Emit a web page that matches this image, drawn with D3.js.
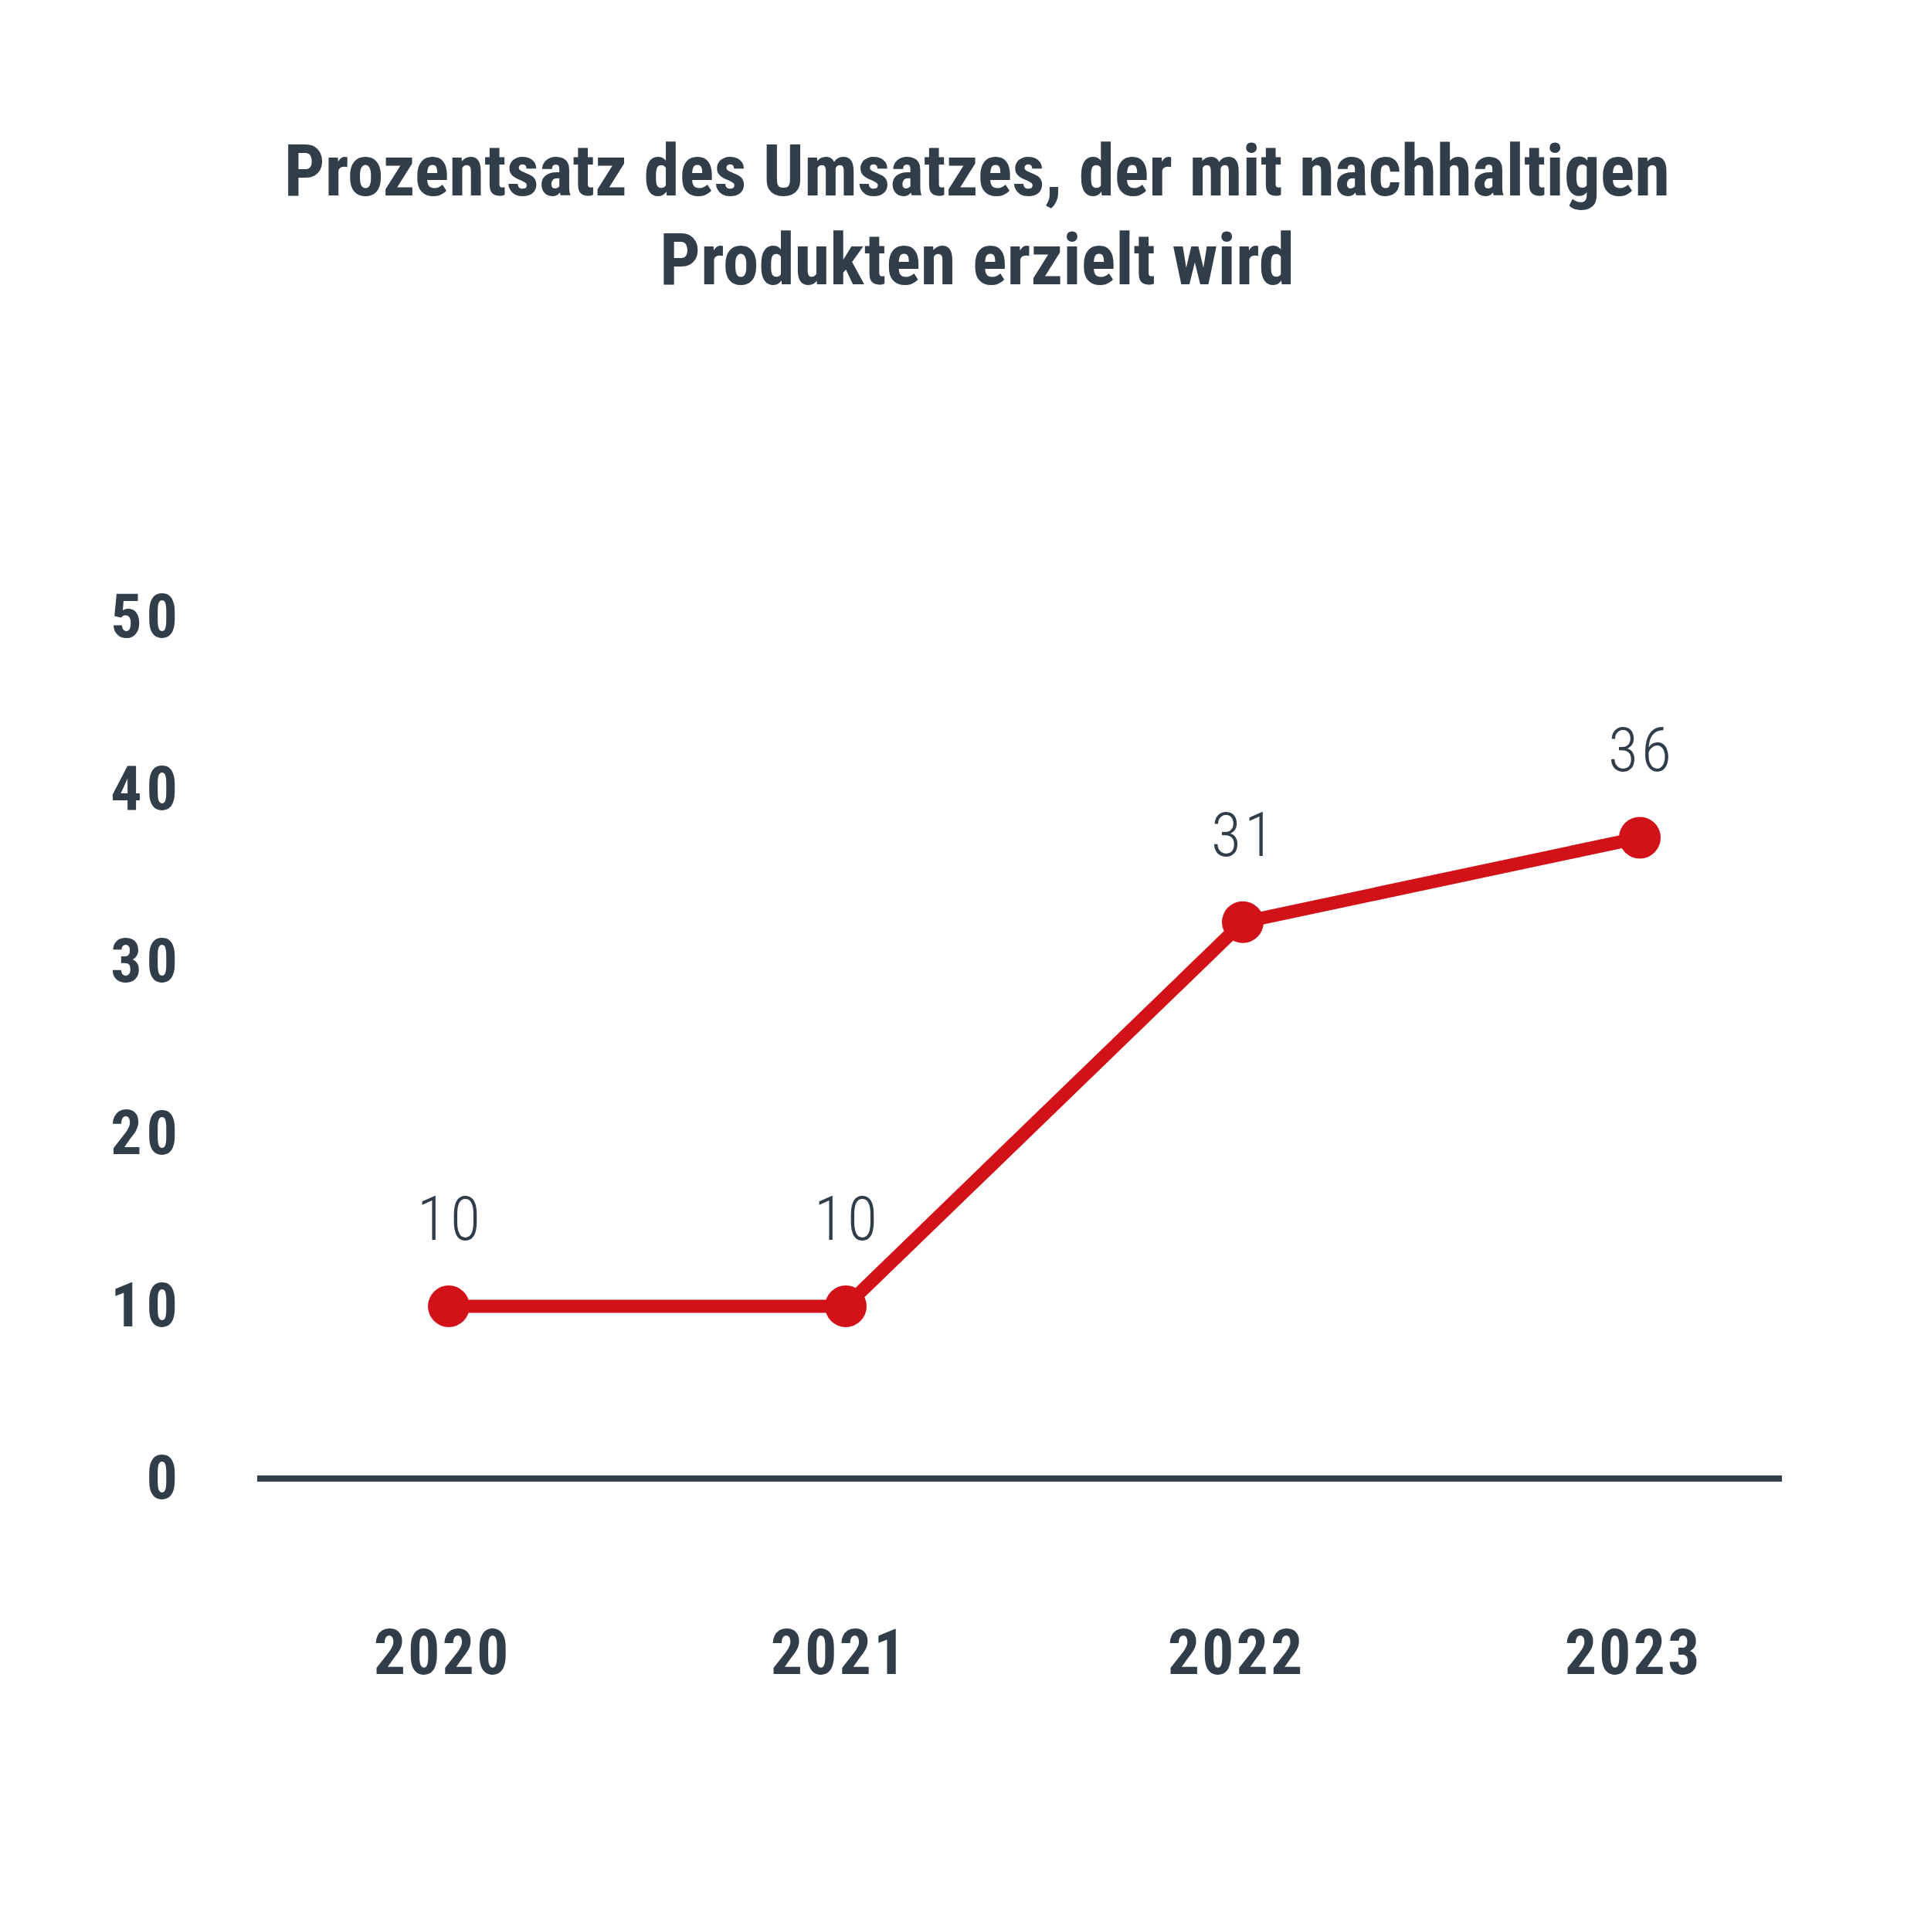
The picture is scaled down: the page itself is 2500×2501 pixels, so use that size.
<!DOCTYPE html>
<html>
<head>
<meta charset="utf-8">
<script src="https://cdn.jsdelivr.net/npm/d3@7"></script>
<style>
    body { margin: 0; background: #fff; }
    svg { display: block; }
    text { font-family: "Roboto Condensed", Roboto, sans-serif; fill: #323d4a; }
</style>
</head>
<body>
<div id="chart"></div>
<script>
const years = ['2020', '2021', '2022', '2023']
// plotted heights, printed labels as shown
const values = [10, 10, 32.3, 37.2]
const valueLabels = ['10', '10', '31', '36']
const yTicks = [0, 10, 20, 30, 40, 50]
const titleLines = ['Prozentsatz des Umsatzes, der mit nachhaltigen', 'Produkten erzielt wird']

const width = 2500,
    height = 2501,
    ink = '#323d4a',
    red = '#d21118';

const xS = d3.scalePoint()
    .domain(years)
    .range([581, 2123])

const yS = d3.scaleLinear()
    .domain([0, 50])
    .range([1914, 799])

const svg = d3.select('#chart')
    .append('svg')
    .attr('width', width)
    .attr('height', height)

// title
svg.append('text')
    .attr('text-anchor', 'middle')
    .style('font-size', '93px')
    .style('font-weight', 700)
    .selectAll('tspan')
    .data(titleLines)
    .enter()
    .append('tspan')
    .attr('x', 1265)
    .attr('y', (_, i) => 253 + i * 115)
    .text(d => d)

// y axis labels
const yAxis = svg.append('g')
    .attr('transform', 'translate(236, 0)')
    .call(
        d3.axisLeft(yS)
            .tickValues(yTicks)
            .tickSize(0)
            .tickPadding(0)
    )
yAxis.select('.domain').remove()
yAxis.selectAll('text')
    .attr('fill', ink)
    .style('font-family', '"Roboto Condensed", Roboto, sans-serif')
    .style('font-size', '80px')
    .style('font-weight', 700)
    .style('letter-spacing', '6px')

// baseline
svg.append('line')
    .attr('x1', 333)
    .attr('x2', 2307)
    .attr('y1', yS(0))
    .attr('y2', yS(0))
    .attr('stroke', ink)
    .attr('stroke-width', 8)

// x axis labels
const xAxis = svg.append('g')
    .attr('transform', 'translate(-9, 2109)')
    .call(
        d3.axisBottom(xS)
            .tickSize(0)
            .tickPadding(0)
    )
xAxis.select('.domain').remove()
xAxis.selectAll('text')
    .attr('fill', ink)
    .style('font-family', '"Roboto Condensed", Roboto, sans-serif')
    .style('font-size', '82px')
    .style('font-weight', 700)
    .style('letter-spacing', '3px')

const points = years.map((y, i) => ({ year: y, value: values[i], label: valueLabels[i] }))

const line = d3.line()
    .x(d => xS(d.year))
    .y(d => yS(d.value))

svg.append('path')
    .datum(points)
    .attr('d', line)
    .attr('fill', 'none')
    .attr('stroke', red)
    .attr('stroke-width', 17)
    .attr('stroke-linejoin', 'round')

svg.selectAll('circle.dot')
    .data(points)
    .enter()
    .append('circle')
    .classed('dot', true)
    .attr('cx', d => xS(d.year))
    .attr('cy', d => yS(d.value))
    .attr('r', 27)
    .attr('fill', red)

svg.selectAll('text.val')
    .data(points)
    .enter()
    .append('text')
    .classed('val', true)
    .attr('x', d => xS(d.year) + 2)
    .attr('y', d => yS(d.value) - 86)
    .attr('text-anchor', 'middle')
    .style('font-size', '80px')
    .style('font-weight', 300)
    .style('letter-spacing', '4px')
    .text(d => d.label)
</script>
</body>
</html>
